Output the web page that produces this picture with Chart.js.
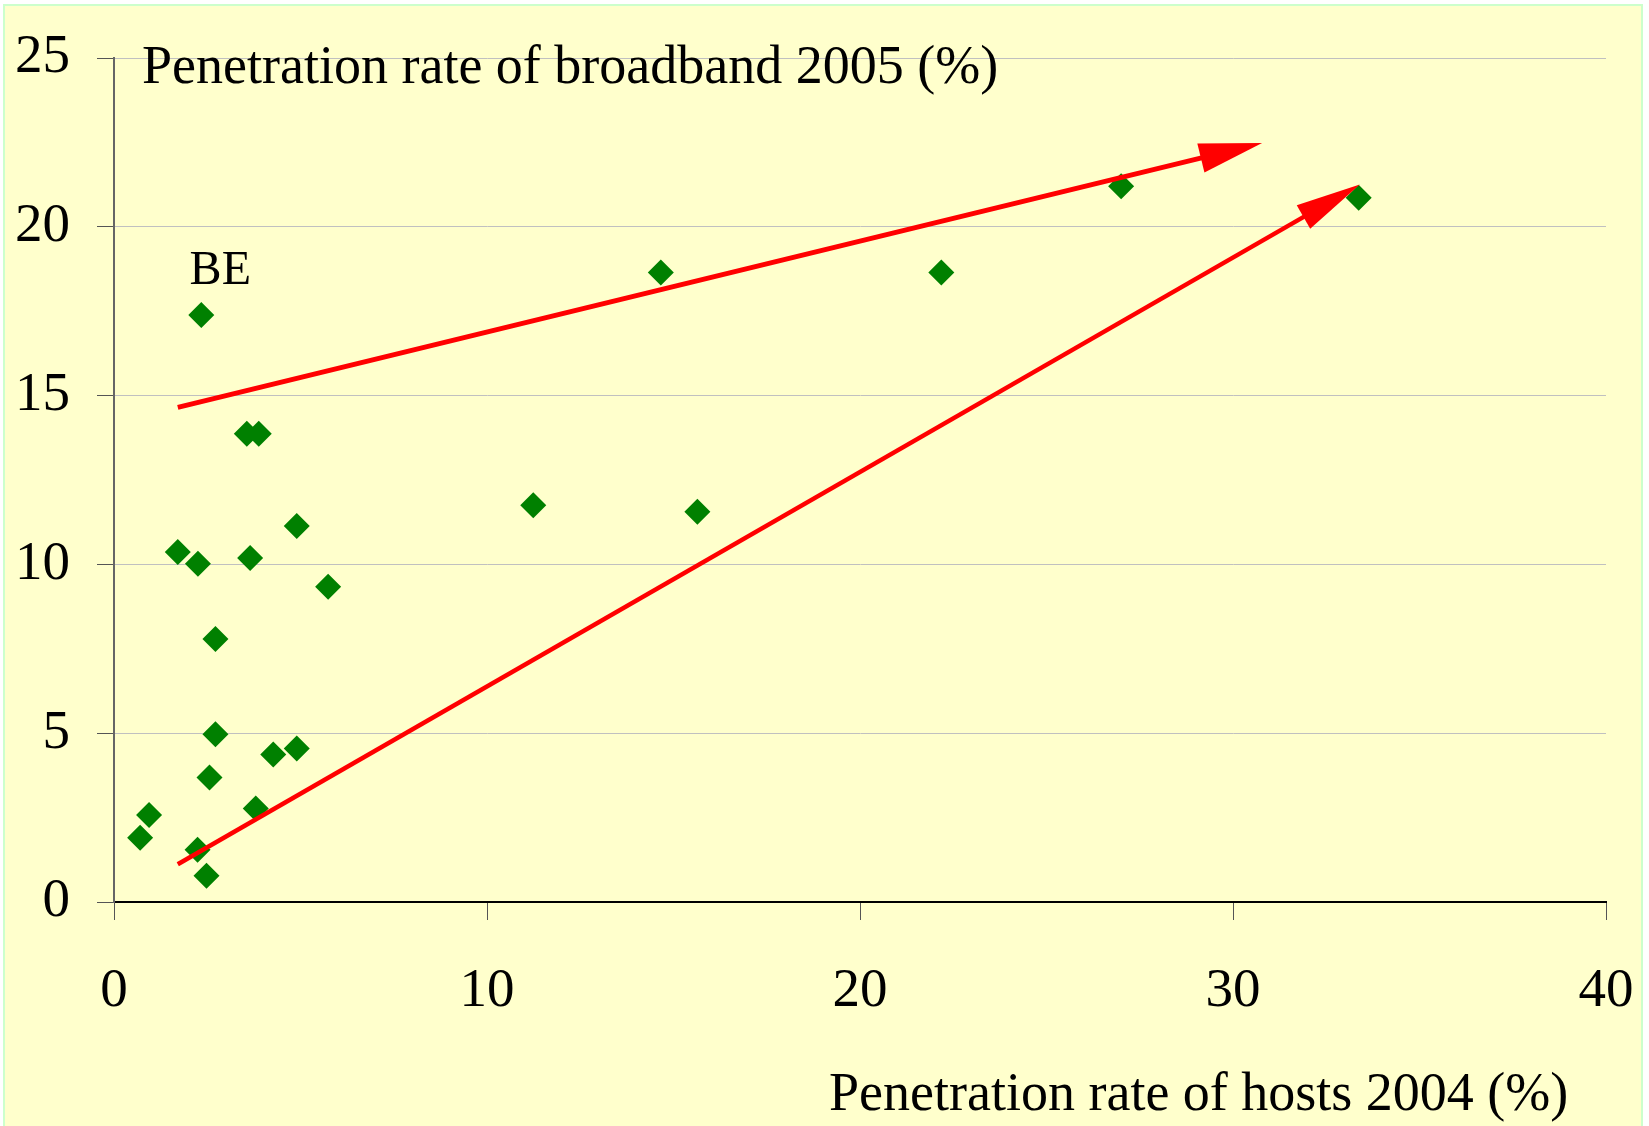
<!DOCTYPE html>
<html>
<head>
<meta charset="utf-8">
<script src="https://cdn.jsdelivr.net/npm/chart.js@4.4.0/dist/chart.umd.min.js"></script>
<style>
    html, body { margin: 0; padding: 0; background: #ffffff; overflow: hidden; }
    #fundo { position: absolute; left: 3px; top: 4px; width: 1636px; height: 1130px; background: #ffffcc; border: 2px solid #ccffcc; }
    #grafico { position: absolute; left: 0; top: 0; }
</style>
</head>
<body>
<div id="fundo"></div>
<canvas id="grafico" width="1649" height="1126"></canvas>
<script>
// === Dados ===
const hostsX = [0.70, 0.94, 1.71, 2.25, 2.34, 2.24, 2.48, 2.56, 2.72, 2.72, 3.56, 3.88, 3.65, 3.80, 4.27, 4.90, 4.90, 5.74, 11.24, 14.66, 15.64, 22.18, 27.00, 33.37];
const broadbandY = [1.90, 2.58, 10.37, 10.02, 17.39, 1.55, 0.78, 3.69, 7.79, 4.97, 13.87, 13.87, 10.19, 2.77, 4.37, 11.14, 4.55, 9.34, 11.75, 18.65, 11.56, 18.65, 21.20, 20.86];
const pointLabels = ['', '', '', '', 'BE', '', '', '', '', '', '', '', '', '', '', '', '', '', '', '', '', '', '', ''];

// setas (início, ponta)
const upperArrowX = [1.71, 30.78];
const upperArrowY = [14.65, 22.48];
const lowerArrowX = [1.71, 33.40];
const lowerArrowY = [1.12, 21.25];

const xTicks = [0, 10, 20, 30, 40];
const yTicks = [0, 5, 10, 15, 20, 25];

const yTitle = 'Penetration rate of broadband 2005 (%)';
const xTitle = 'Penetration rate of hosts 2004 (%)';

const fonte = "'Liberation Serif', 'Times New Roman', serif";

function pares(xs, ys) {
    return xs.map((x, i) => ({ x: x, y: ys[i] }));
}

// Plugin: pontas das setas, títulos e rótulo BE
const decorPlugin = {
    id: 'decor',
    beforeDatasetDraw(chart, args) {
        const ds = chart.data.datasets[args.index];
        if (!ds.arrowHead) return;
        const pts = args.meta.data;
        const a = pts[pts.length - 2], b = pts[pts.length - 1];
        const len = Math.hypot(b.x - a.x, b.y - a.y);
        const ux = (b.x - a.x) / len, uy = (b.y - a.y) / len;
        const nx = -uy, ny = ux;
        const bx = b.x - ux * (ds.arrowHead.length - 4);
        const by = b.y - uy * (ds.arrowHead.length - 4);
        const L = 4000;
        const ctx = chart.ctx;
        ctx.save();
        ctx.beginPath();
        ctx.moveTo(bx + nx * L, by + ny * L);
        ctx.lineTo(bx + nx * L - ux * L, by + ny * L - uy * L);
        ctx.lineTo(bx - nx * L - ux * L, by - ny * L - uy * L);
        ctx.lineTo(bx - nx * L, by - ny * L);
        ctx.closePath();
        ctx.clip();
    },
    afterDatasetDraw(chart, args) {
        const ds = chart.data.datasets[args.index];
        if (!ds.arrowHead) return;
        const ctx = chart.ctx;
        ctx.restore();
        const pts = args.meta.data;
        const a = pts[pts.length - 2], b = pts[pts.length - 1];
        const len = Math.hypot(b.x - a.x, b.y - a.y);
        const ux = (b.x - a.x) / len, uy = (b.y - a.y) / len;
        const nx = -uy, ny = ux;
        const cx = b.x - ux * ds.arrowHead.length;
        const cy = b.y - uy * ds.arrowHead.length;
        const w = ds.arrowHead.width / 2;
        ctx.save();
        ctx.fillStyle = ds.borderColor;
        ctx.beginPath();
        ctx.moveTo(b.x, b.y);
        ctx.lineTo(cx + nx * w, cy + ny * w);
        ctx.lineTo(cx - nx * w, cy - ny * w);
        ctx.closePath();
        ctx.fill();
        ctx.restore();
    },
    afterDraw(chart) {
        const ctx = chart.ctx;
        const area = chart.chartArea;
        ctx.save();
        ctx.fillStyle = '#000000';
        ctx.textBaseline = 'alphabetic';
        ctx.textAlign = 'left';
        ctx.font = '54px ' + fonte;
        ctx.fillText(yTitle, area.left + 28, area.top + 25);
        ctx.fillText(xTitle, area.left + 715, area.bottom + 208);

        // rótulos dos pontos
        const metaPontos = chart.getDatasetMeta(2);
        ctx.font = '48px ' + fonte;
        ctx.textAlign = 'center';
        pointLabels.forEach((txt, i) => {
            if (!txt) return;
            const p = metaPontos.data[i];
            ctx.fillText(txt, p.x + 19, p.y - 31);
        });
        ctx.restore();
    }
};

new Chart(document.getElementById('grafico'), {
    type: 'scatter',
    data: {
        datasets: [
            {
                label: 'seta superior',
                data: pares(upperArrowX, upperArrowY),
                showLine: true,
                borderColor: '#ff0000',
                borderWidth: 5,
                borderCapStyle: 'butt',
                pointRadius: 0,
                arrowHead: { length: 63, width: 30 }
            },
            {
                label: 'seta inferior',
                data: pares(lowerArrowX, lowerArrowY),
                showLine: true,
                borderColor: '#ff0000',
                borderWidth: 4.5,
                borderCapStyle: 'butt',
                pointRadius: 0,
                arrowHead: { length: 65, width: 27 }
            },
            {
                label: 'países',
                data: pares(hostsX, broadbandY),
                pointStyle: 'rectRot',
                pointRadius: 13,
                backgroundColor: '#008000',
                borderWidth: 0
            }
        ]
    },
    options: {
        responsive: false,
        animation: false,
        events: [],
        layout: { padding: { left: 0, top: 58, right: 43, bottom: 0 } },
        plugins: { legend: { display: false }, tooltip: { enabled: false } },
        scales: {
            x: {
                type: 'linear',
                min: xTicks[0],
                max: xTicks[xTicks.length - 1],
                afterBuildTicks: s => { s.ticks = xTicks.map(v => ({ value: v })); },
                afterFit: s => { s.height = 224; s.paddingLeft = 0; s.paddingRight = 0; },
                ticks: { font: { family: fonte, size: 55 }, color: '#000000', padding: 39, maxRotation: 0, autoSkip: false },
                grid: { drawOnChartArea: false, drawTicks: true, tickLength: 18, tickColor: '#555555', tickWidth: 1 },
                border: { color: '#000000', width: 2 }
            },
            y: {
                type: 'linear',
                min: yTicks[0],
                max: yTicks[yTicks.length - 1],
                afterBuildTicks: s => { s.ticks = yTicks.map(v => ({ value: v })); },
                afterFit: s => { s.width = 114; s.paddingTop = 0; s.paddingBottom = 0; },
                ticks: { font: { family: fonte, size: 55 }, color: '#000000', padding: 27, autoSkip: false },
                grid: {
                    color: c => (c.tick && c.tick.value === 0) ? 'rgba(0,0,0,0)' : '#c0c0c0',
                    lineWidth: 1,
                    tickLength: 17,
                    tickColor: '#555555',
                    tickWidth: 1
                },
                border: { color: '#666666', width: 2 }
            }
        }
    },
    plugins: [decorPlugin]
});
</script>
</body>
</html>
